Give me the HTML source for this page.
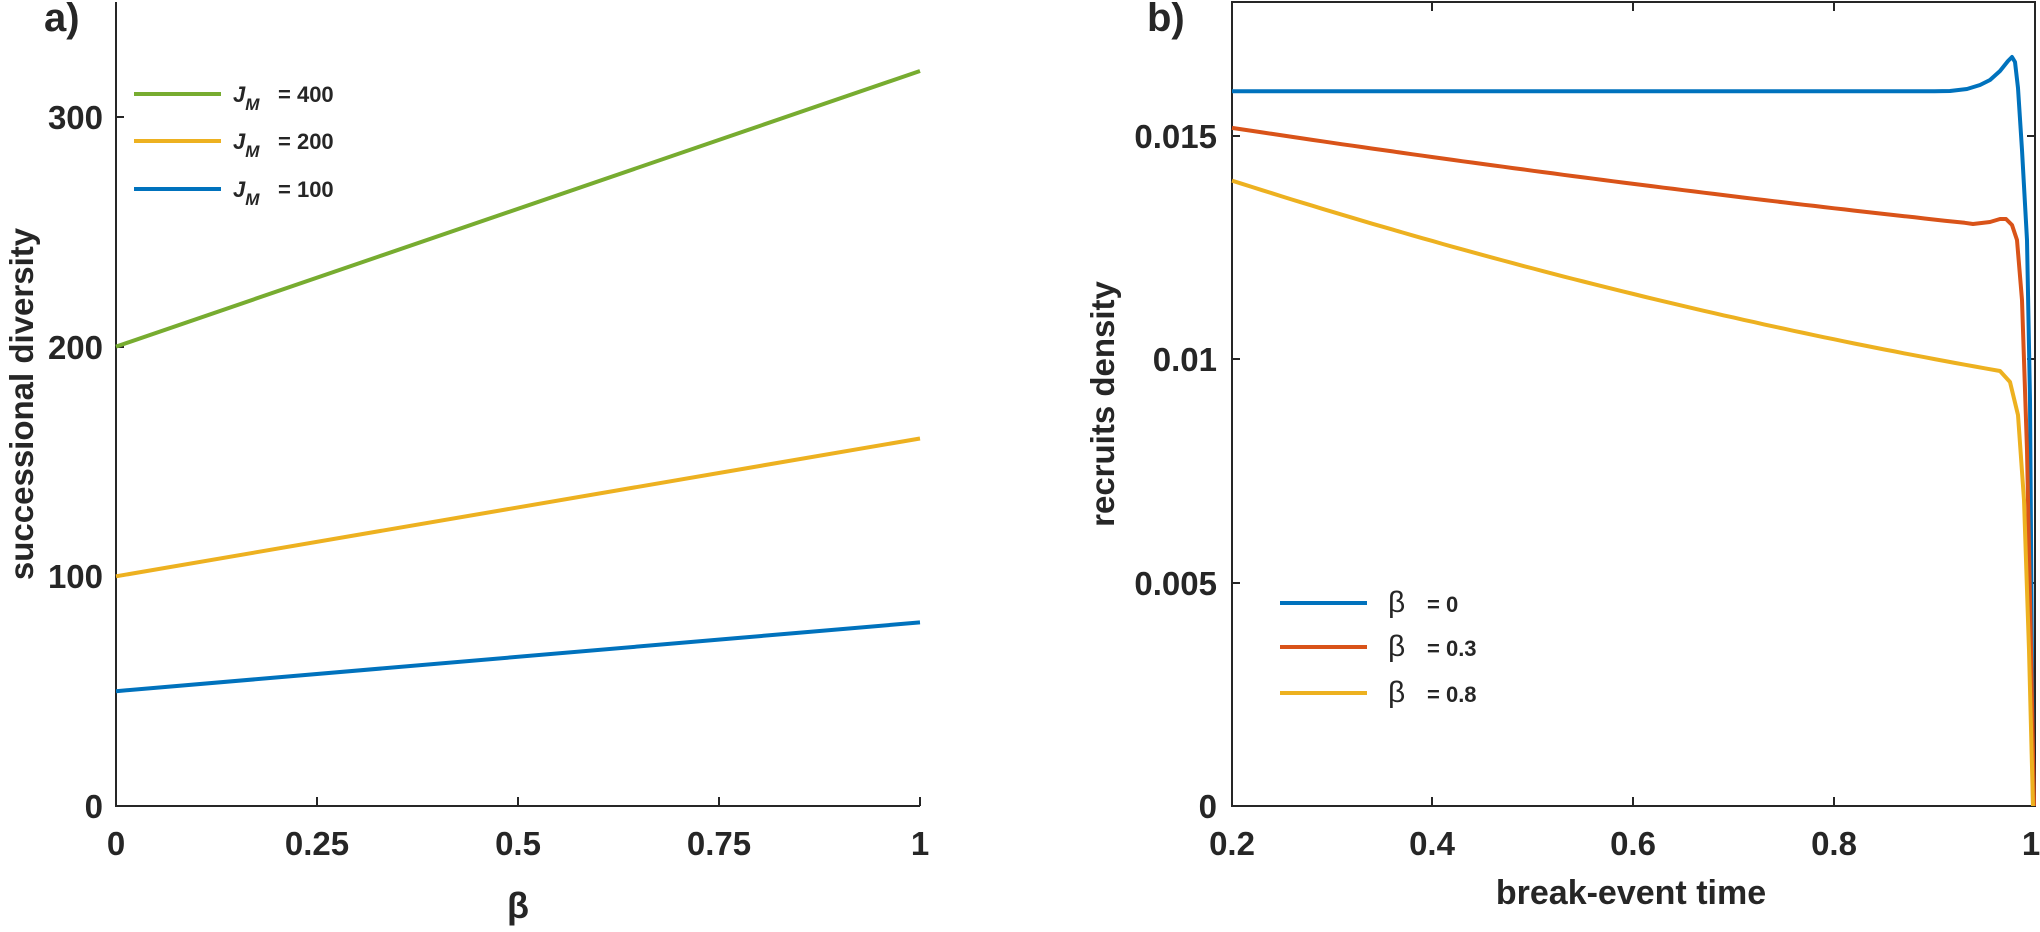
<!DOCTYPE html>
<html><head><meta charset="utf-8"><style>
html,body{margin:0;padding:0;background:#fff;}
svg{display:block;}
text{font-family:"Liberation Sans",Arial,sans-serif;font-weight:bold;fill:#262626;}
</style></head><body>
<svg id="s" width="2040" height="932" viewBox="0 0 2040 932" xmlns="http://www.w3.org/2000/svg">
<rect width="2040" height="932" fill="#fff"/>
<!-- Panel a -->
<text x="44" y="31" font-size="40">a)</text>
<g stroke="#262626" stroke-width="2" fill="none">
<path d="M116,2 V806 H920"/>
<path d="M317,806 v-9 M518,806 v-9 M719,806 v-9 M920,806 v-9"/>
<path d="M116,576 h8 M116,347 h8 M116,117 h8"/>
</g>
<g font-size="33" text-anchor="end">
<text x="103" y="818">0</text>
<text x="103" y="588">100</text>
<text x="103" y="359">200</text>
<text x="103" y="129">300</text>
</g>
<g font-size="33" text-anchor="middle">
<text x="116" y="855">0</text>
<text x="317" y="855">0.25</text>
<text x="518" y="855">0.5</text>
<text x="719" y="855">0.75</text>
<text x="920" y="855">1</text>
</g>
<text x="518" y="918" font-size="36" text-anchor="middle">β</text>
<text transform="translate(33,404) rotate(-90)" font-size="33" text-anchor="middle">successional diversity</text>
<g stroke-width="4" fill="none">
<line x1="116" y1="346.6" x2="920" y2="71" stroke="#77AC30"/>
<line x1="116" y1="576.3" x2="920" y2="438.5" stroke="#EDB120"/>
<line x1="116" y1="691.2" x2="920" y2="622.4" stroke="#0072BD"/>
<line x1="134" y1="94" x2="221" y2="94" stroke="#77AC30"/>
<line x1="134" y1="141" x2="221" y2="141" stroke="#EDB120"/>
<line x1="134" y1="189" x2="221" y2="189" stroke="#0072BD"/>
</g>
<g font-size="22">
<text x="233" y="102"><tspan font-style="italic">J</tspan><tspan font-style="italic" font-size="17" dy="8">M</tspan><tspan dy="-8" x="278">= 400</tspan></text>
<text x="233" y="149"><tspan font-style="italic">J</tspan><tspan font-style="italic" font-size="17" dy="8">M</tspan><tspan dy="-8" x="278">= 200</tspan></text>
<text x="233" y="197"><tspan font-style="italic">J</tspan><tspan font-style="italic" font-size="17" dy="8">M</tspan><tspan dy="-8" x="278">= 100</tspan></text>
</g>
<!-- Panel b -->
<text x="1147" y="31" font-size="40">b)</text>
<g stroke="#262626" stroke-width="2" fill="none">
<rect x="1232" y="2" width="803" height="804"/>
<path d="M1432,806 v-9 M1633,806 v-9 M1834,806 v-9 M1432,2 v9 M1633,2 v9 M1834,2 v9"/>
<path d="M1232,583 h8 M1232,359 h8 M1232,136 h8 M2035,583 h-8 M2035,359 h-8 M2035,136 h-8"/>
</g>
<g font-size="33" text-anchor="end">
<text x="1217" y="818">0</text>
<text x="1217" y="595">0.005</text>
<text x="1217" y="371">0.01</text>
<text x="1217" y="148">0.015</text>
</g>
<g font-size="33" text-anchor="middle">
<text x="1232" y="855">0.2</text>
<text x="1432" y="855">0.4</text>
<text x="1633" y="855">0.6</text>
<text x="1834" y="855">0.8</text>
<text x="2031" y="855">1</text>
</g>
<text x="1631" y="904" font-size="34" text-anchor="middle">break-event time</text>
<text transform="translate(1114,404) rotate(-90)" font-size="33" text-anchor="middle">recruits density</text>
<g id="curves" stroke-width="4" fill="none" stroke-linejoin="round"></g>
<g stroke-width="4">
<line x1="1280" y1="603" x2="1367" y2="603" stroke="#0072BD"/>
<line x1="1280" y1="647" x2="1367" y2="647" stroke="#D95319"/>
<line x1="1280" y1="693" x2="1367" y2="693" stroke="#EDB120"/>
</g>
<g font-size="22">
<text x="1388" y="612"><tspan font-size="30" font-weight="normal">β</tspan><tspan x="1427">= 0</tspan></text>
<text x="1388" y="656"><tspan font-size="30" font-weight="normal">β</tspan><tspan x="1427">= 0.3</tspan></text>
<text x="1388" y="702"><tspan font-size="30" font-weight="normal">β</tspan><tspan x="1427">= 0.8</tspan></text>
</g>
</svg>
<script>
(function(){
function X(t){return 1232+(t-0.2)*1003.75;}
function Y(v){return 806-v*44670;}
function build(f,tEnd,tail){
  var p=[];
  for(var t=0.2;t<=tEnd+1e-9;t+=0.01){p.push([X(t),Y(f(t))]);}
  tail.forEach(function(q){p.push(q);});
  return 'M'+p.map(function(q){return q[0].toFixed(1)+','+q[1].toFixed(1);}).join(' L');
}
var g=document.getElementById('curves');
function add(d,c){var e=document.createElementNS('http://www.w3.org/2000/svg','path');e.setAttribute('d',d);e.setAttribute('stroke',c);g.appendChild(e);}
add(build(function(){return 0.016;},0.9,[[1950,91],[1967,89],[1980,85],[1990,80],[2000,71],[2008,61],[2012,57],[2015,62],[2018,88],[2022,150],[2027,240],[2030,400],[2033,806]]),'#0072BD');
add(build(function(t){var u=t-0.2;return 0.01518-0.0034*u+0.00067*u*u;},0.93,[[1973,224],[1990,222],[2000,219],[2006,219],[2012,225],[2017,240],[2022,300],[2027,450],[2031,650],[2034,806]]),'#D95319');
add(build(function(t){var u=t-0.2;return 0.0140-0.0072*u+0.00213*u*u;},0.95,[[2000,371],[2010,382],[2018,415],[2024,500],[2029,650],[2033,806]]),'#EDB120');
})();
</script>
</body></html>
